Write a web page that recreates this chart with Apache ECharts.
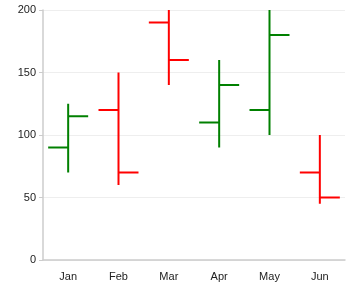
<!DOCTYPE html>
<html><head><meta charset="utf-8">
<script src="https://cdn.jsdelivr.net/npm/echarts@6/dist/echarts.min.js"></script>
<style>html,body{margin:0;padding:0;background:#fff}#c{width:353px;height:298px}</style>
</head><body><div id="c"></div>
<script>
const categories = ['Jan','Feb','Mar','Apr','May','Jun'];
const openVals  = [90, 120, 190, 110, 120, 70];
const highVals  = [125, 150, 200, 160, 200, 100];
const lowVals   = [70, 60, 140, 90, 100, 45];
const closeVals = [115, 70, 160, 140, 180, 50];
const yTicks = [0, 50, 100, 150, 200];

const data = categories.map((c, i) => [i, openVals[i], highVals[i], lowVals[i], closeVals[i]]);

const chart = echarts.init(document.getElementById('c'), null, {renderer: 'canvas'});
chart.setOption({
  animation: false,
  grid: {left: 43, right: 8, top: 10, bottom: 38},
  xAxis: {
    type: 'category', data: categories,
    axisLine: {lineStyle: {color: '#ccc', width: 1.5}},
    axisTick: {alignWithLabel: true, length: 5, lineStyle: {color: '#ccc'}},
    axisLabel: {color: '#222', fontSize: 11, fontFamily: 'Liberation Sans', margin: 11}
  },
  yAxis: {
    type: 'value', min: yTicks[0], max: yTicks[yTicks.length - 1], interval: 50,
    axisLine: {show: true, lineStyle: {color: '#ccc', width: 1.5}},
    axisTick: {show: true, length: 4, lineStyle: {color: '#ccc'}},
    axisLabel: {color: '#222', fontSize: 11, fontFamily: 'Liberation Sans', margin: 7},
    splitLine: {lineStyle: {color: '#eee'}}
  },
  series: [{
    type: 'custom',
    data: data,
    encode: {x: 0, y: [1, 2, 3, 4]},
    renderItem: function (params, api) {
      const x = api.value(0);
      const o = api.value(1), h = api.value(2), l = api.value(3), c = api.value(4);
      const pH = api.coord([x, h]);
      const pL = api.coord([x, l]);
      const pO = api.coord([x, o]);
      const pC = api.coord([x, c]);
      const w = 20;
      const color = c >= o ? '#008000' : '#ff0000';
      const style = {stroke: color, lineWidth: 2, fill: null};
      return {
        type: 'group',
        children: [
          {type: 'line', shape: {x1: pH[0], y1: pH[1], x2: pL[0], y2: pL[1]}, style: style},
          {type: 'line', shape: {x1: pO[0] - w, y1: pO[1], x2: pO[0], y2: pO[1]}, style: style},
          {type: 'line', shape: {x1: pC[0], y1: pC[1], x2: pC[0] + w, y2: pC[1]}, style: style}
        ]
      };
    }
  }]
});
</script></body></html>
